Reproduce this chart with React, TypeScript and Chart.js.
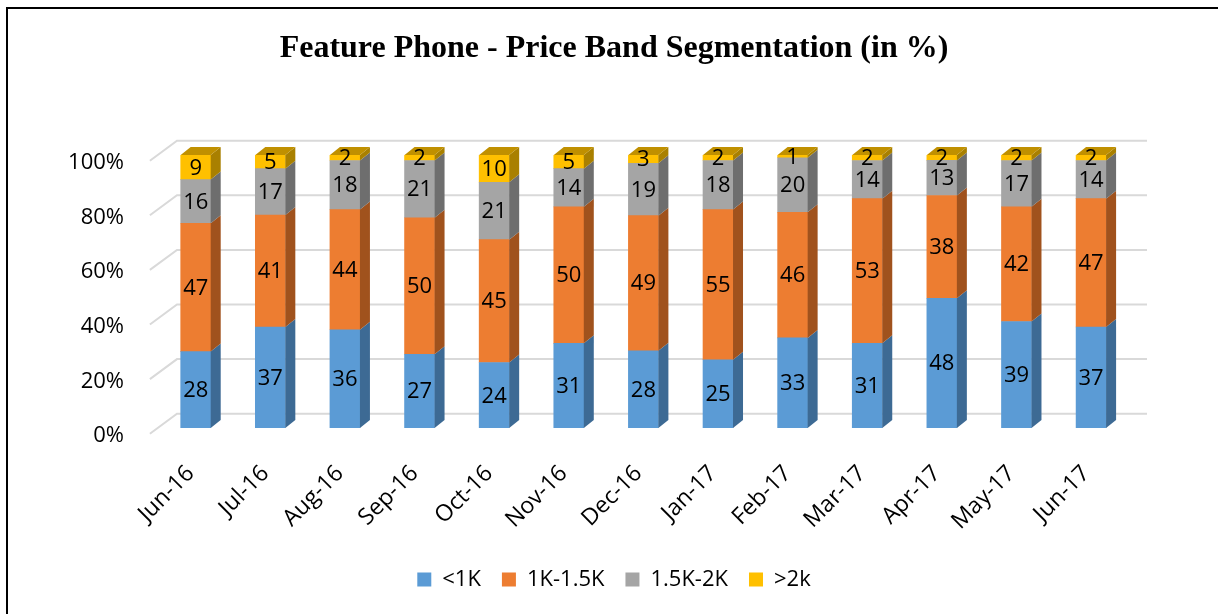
import React, { useEffect, useRef } from "react";
import { Chart, registerables } from "chart.js";

Chart.register(...registerables);

const categories = ["Jun-16", "Jul-16", "Aug-16", "Sep-16", "Oct-16", "Nov-16", "Dec-16", "Jan-17", "Feb-17", "Mar-17", "Apr-17", "May-17", "Jun-17"];
const seriesNames = ["<1K", "1K-1.5K", "1.5K-2K", ">2k"];
const below1K = [28, 37, 36, 27, 24, 31, 28, 25, 33, 31, 48, 39, 37];
const from1Kto15K = [47, 41, 44, 50, 45, 50, 49, 55, 46, 53, 38, 42, 47];
const from15Kto2K = [16, 17, 18, 21, 21, 14, 19, 18, 20, 14, 13, 17, 14];
const above2K = [9, 5, 2, 2, 10, 5, 3, 2, 1, 2, 2, 2, 2];
const yTicks = [0, 20, 40, 60, 80, 100];

const rawSeries = [below1K, from1Kto15K, from15Kto2K, above2K];
const faceColors = ["#5b9bd5", "#ed7d31", "#a5a5a5", "#ffc000"];
const sideColors = ["#3d6a94", "#a0521d", "#6e6e6e", "#a98000"];
const topColors = ["#4a80b4", "#c2621f", "#8a8a8a", "#c09000"];

const FONT = "'Open Sans', 'Noto Sans', sans-serif";
const DX = 10;
const DY = -8;

const totals = categories.map((_, i) => rawSeries.reduce((s, arr) => s + arr[i], 0));

const threeDPlugin = {
  id: "threeD",
  beforeDatasetsDraw(chart: any) {
    const { ctx, chartArea, scales } = chart;
    const y = scales.y;
    ctx.save();
    ctx.strokeStyle = "#d9d9d9";
    ctx.lineWidth = 2;
    for (const v of yTicks) {
      const py = y.getPixelForValue(v);
      ctx.beginPath();
      ctx.moveTo(chartArea.left - 8.5, py + 5.7);
      ctx.lineTo(chartArea.left + 18.6, py - 14.3);
      ctx.lineTo(chartArea.right + 18.6, py - 14.3);
      ctx.stroke();
    }
    ctx.restore();
  },
  afterDatasetsDraw(chart: any) {
    const { ctx } = chart;
    const n = chart.data.datasets.length;
    ctx.save();
    for (let d = 0; d < n; d++) {
      const meta = chart.getDatasetMeta(d);
      meta.data.forEach((bar: any) => {
        const { x, y: top, base, width } = bar.getProps(["x", "y", "base", "width"], true);
        const r = x + width / 2;
        const l = x - width / 2;
        ctx.fillStyle = sideColors[d];
        ctx.beginPath();
        ctx.moveTo(r, top);
        ctx.lineTo(r + DX, top + DY);
        ctx.lineTo(r + DX, base + DY);
        ctx.lineTo(r, base);
        ctx.closePath();
        ctx.fill();
        if (d === n - 1) {
          ctx.fillStyle = topColors[d];
          ctx.beginPath();
          ctx.moveTo(l, top);
          ctx.lineTo(l + DX, top + DY);
          ctx.lineTo(r + DX, top + DY);
          ctx.lineTo(r, top);
          ctx.closePath();
          ctx.fill();
        }
      });
    }
    ctx.fillStyle = "#000";
    ctx.font = `22px ${FONT}`;
    ctx.textAlign = "center";
    ctx.textBaseline = "middle";
    for (let d = 0; d < n; d++) {
      const meta = chart.getDatasetMeta(d);
      meta.data.forEach((bar: any, i: number) => {
        const { x, y: top, base } = bar.getProps(["x", "y", "base"], true);
        ctx.fillText(String(rawSeries[d][i]), x, (top + base) / 2 + 1);
      });
    }
    ctx.restore();
  },
};

export default function App() {
  const ref = useRef<HTMLCanvasElement | null>(null);

  useEffect(() => {
    if (!ref.current) return;
    const chart = new Chart(ref.current, {
      type: "bar",
      data: {
        labels: categories,
        datasets: rawSeries.map((arr, d) => ({
          label: seriesNames[d],
          data: arr.map((v, i) => (v / totals[i]) * 100),
          backgroundColor: faceColors[d],
          borderWidth: 0,
          barThickness: 30,
        })),
      },
      options: {
        animation: false,
        responsive: false,
        layout: { padding: { left: 10, right: 0, top: 0, bottom: 13.5 } },
        plugins: {
          title: {
            display: true,
            text: "Feature Phone - Price Band Segmentation (in %)",
            color: "#000",
            font: { family: "'Liberation Serif', 'Times New Roman', serif", size: 32, weight: "bold" },
            padding: { top: 30, bottom: 86.6 },
          },
          legend: {
            position: "bottom",
            labels: {
              color: "#000",
              boxWidth: 14,
              boxHeight: 14,
              padding: 21,
              font: { family: FONT, size: 22 },
            },
          },
          tooltip: { enabled: false },
        },
        scales: {
          x: {
            stacked: true,
            grid: { display: false, drawTicks: false },
            border: { display: false },
            ticks: {
              color: "#000",
              font: { family: FONT, size: 23 },
              minRotation: 45,
              maxRotation: 45,
              padding: 32,
              labelOffset: -5,
            },
            afterFit: (scale: any) => {
              scale.height = 119.5;
            },
          },
          y: {
            stacked: true,
            min: 0,
            max: 100,
            grid: { display: false, drawTicks: false },
            border: { display: false },
            ticks: {
              stepSize: 20,
              color: "#000",
              font: { family: FONT, size: 22 },
              padding: 34.4,
              labelOffset: 8,
              callback: (v: any) => `${v}%`,
            },
            afterFit: (scale: any) => {
              scale.width = 148.4;
            },
          },
          yRight: {
            position: "right",
            display: true,
            grid: { display: false, drawTicks: false },
            border: { display: false },
            ticks: { display: false },
            afterFit: (scale: any) => {
              scale.width = 89.6;
            },
          },
        },
      },
      plugins: [threeDPlugin],
    });
    return () => chart.destroy();
  }, []);

  return (
    <div style={{ position: "fixed", left: 0, top: 0, width: 1218, height: 614, overflow: "hidden", background: "#fff" }}>
      <canvas ref={ref} width={1218} height={614} style={{ position: "absolute", left: 0, top: 0 }} />
      <div
        style={{
          position: "absolute",
          left: 6,
          top: 6.5,
          width: 1300,
          height: 700,
          border: "2px solid #000",
          pointerEvents: "none",
        }}
      />
    </div>
  );
}
